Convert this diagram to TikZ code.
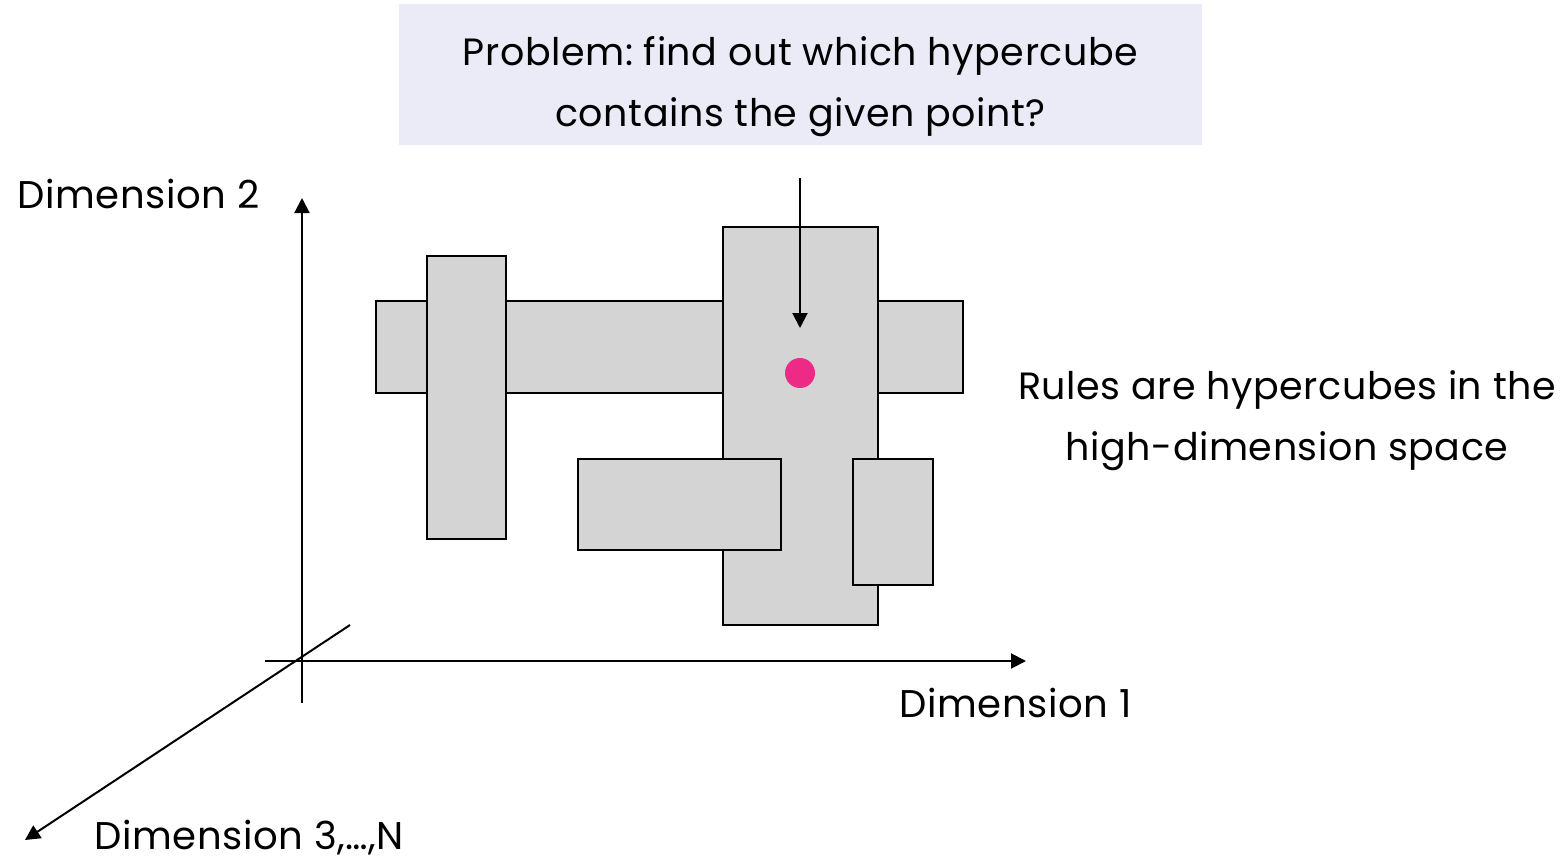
\documentclass[tikz,border=0pt]{standalone}
\usepackage{fontspec}
\setmainfont[LetterSpace=1.5]{Poppins}
\frenchspacing
\usetikzlibrary{arrows.meta}
\definecolor{boxbg}{HTML}{EAEBF7}
\definecolor{cube}{HTML}{D4D4D4}
\definecolor{dot}{HTML}{EE2A87}
\tikzset{
  cubebox/.style={draw=black, fill=cube, line width=1pt},
  axis/.style={line width=1pt, -{Triangle[length=7.5pt,width=7.5pt]}},
  lbl/.style={font=\fontsize{19}{30.5}\selectfont, inner sep=0pt},
  dimlbl/.style={lbl, font=\fontsize{19.3}{30.5}\selectfont},
}
\begin{document}
\begin{tikzpicture}[x=0.5pt,y=-0.5pt]
\useasboundingbox (0,0) rectangle (1565,863);
% title box
\fill[boxbg] (399,4) rectangle (1202,145);
\node[lbl, align=center] (title) at (800.5,87) {Problem: find out which hypercube\\contains the given point?};
% cubes
\draw[cubebox] (376,301) rectangle (963,393);
\draw[cubebox] (427,256) rectangle (506,539);
\draw[cubebox] (723,227) rectangle (878,625);
\draw[cubebox] (578,459) rectangle (781,550);
\draw[cubebox] (853,459) rectangle (933,585);
% point
\node[circle, fill=dot, minimum size=15pt, inner sep=0pt] (pt) at (800,373) {};
\coordinate (qs) at (800,178);
\coordinate (qe) at (800,328);
\draw[axis] (qs) -- (qe);
% axes
\coordinate (vb) at (302,703);
\coordinate (vt) at (302,198);
\coordinate (hl) at (265,661);
\coordinate (hr) at (1026,661);
\coordinate (ds) at (350,625);
\coordinate (de) at (25,840);
\draw[axis] (vb) -- (vt);
\draw[axis] (hl) -- (hr);
\draw[axis] (ds) -- (de);
% labels
\node[dimlbl, anchor=west] (d2) at (17,194) {Dimension 2};
\node[dimlbl, anchor=west] (d1) at (899,703) {Dimension 1};
\node[dimlbl, anchor=west] (d3) at (94,838) {Dimension 3,…,N};
\node[lbl, align=center] (rules) at (1287,421) {Rules are hypercubes in the\\high-dimension space};
\end{tikzpicture}
\end{document}
